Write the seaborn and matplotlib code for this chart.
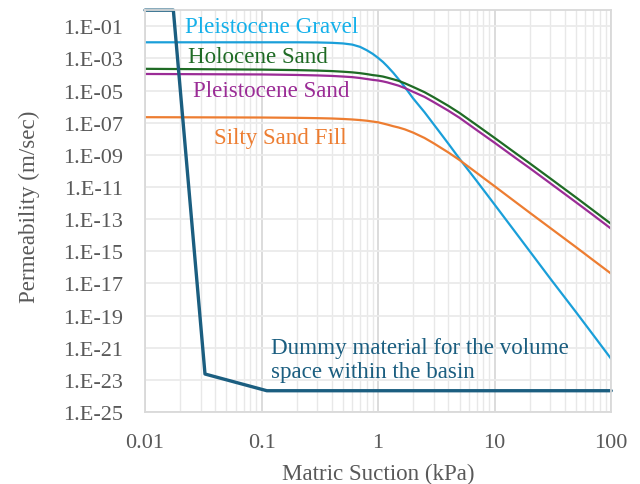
import pandas as pd
import matplotlib
matplotlib.use("Agg")
import matplotlib.pyplot as plt
import matplotlib.ticker as mticker
import seaborn as sns

# matric suction (kPa) shared by the four soil curves
suction = [0.01, 0.1, 0.2, 0.3, 0.4, 0.5, 0.6, 0.7, 0.8, 0.9, 1.0, 1.1, 1.2, 1.35, 1.5, 1.7,
           2.0, 2.5, 3.0, 4.0, 5.0, 7.0, 10, 15, 20, 30, 50, 70, 100]

# permeability (m/sec)
k_gravel = [1.0e-2, 1.0e-2, 1.0e-2, 9.8e-3, 9.3e-3, 8.5e-3, 7.2e-3, 5.2e-3, 3.2e-3, 1.9e-3,
            1.07e-3, 6.0e-4, 3.2e-4, 1.26e-4, 5.0e-5, 1.6e-5, 3.2e-6, 4.5e-7, 7.9e-8, 5.0e-9,
            5.6e-10, 2.4e-11, 7.9e-13, 1.6e-14, 1.0e-15, 2.0e-17, 1.6e-19, 6.3e-21, 2.0e-22]
k_holocene = [2.24e-4, 2.0e-4, 1.86e-4, 1.74e-4, 1.62e-4, 1.48e-4, 1.35e-4, 1.2e-4, 1.05e-4, 9.1e-5,
              8.3e-5, 7.4e-5, 6.3e-5, 5.0e-5, 4.0e-5, 2.8e-5, 1.66e-5, 7.9e-6, 3.8e-6, 1.12e-6,
              4.0e-7, 7.1e-8, 1.12e-8, 1.32e-9, 2.95e-10, 3.4e-11, 2.2e-12, 3.5e-13, 5.0e-14]
k_pleist_sand = [1.07e-4, 1.0e-4, 9.3e-5, 8.7e-5, 8.1e-5, 7.4e-5, 6.8e-5, 6.0e-5, 5.2e-5, 4.6e-5,
                 4.2e-5, 3.7e-5, 3.2e-5, 2.5e-5, 2.0e-5, 1.41e-5, 8.3e-6, 4.0e-6, 1.9e-6, 5.6e-7,
                 2.0e-7, 3.5e-8, 5.6e-9, 6.6e-10, 1.48e-10, 1.7e-11, 1.1e-12, 1.78e-13, 2.5e-14]
k_silty = [2.19e-7, 2.09e-7, 2.0e-7, 1.91e-7, 1.82e-7, 1.7e-7, 1.58e-7, 1.45e-7, 1.32e-7, 1.17e-7,
           1.05e-7, 8.9e-8, 7.6e-8, 6.0e-8, 5.0e-8, 3.8e-8, 2.4e-8, 1.12e-8, 5.2e-9, 1.41e-9,
           4.7e-10, 7.6e-11, 1.1e-11, 1.2e-12, 2.5e-13, 2.8e-14, 1.78e-15, 2.8e-16, 4.0e-17]

# dummy material
suction_dummy = [0.01, 0.0175, 0.0327, 0.111, 100]
k_dummy = [1.0, 1.0, 2.3e-23, 2.1e-24, 2.1e-24]

materials = ["Pleistocene Gravel", "Holocene Sand", "Pleistocene Sand", "Silty Sand Fill"]
colors = {"Pleistocene Gravel": "#1a9fd9", "Holocene Sand": "#1f6b25",
          "Pleistocene Sand": "#9b2c96", "Silty Sand Fill": "#ed7d31"}
text_colors = {"Pleistocene Gravel": "#14b0ea", "Holocene Sand": "#1f6b25",
               "Pleistocene Sand": "#9b2c96", "Silty Sand Fill": "#ed7d31"}
dummy_color = "#1b5e80"

df = pd.concat([
    pd.DataFrame({"suction": suction, "k": k, "material": m})
    for m, k in zip(materials, [k_gravel, k_holocene, k_pleist_sand, k_silty])
])
df_dummy = pd.DataFrame({"suction": suction_dummy, "k": k_dummy})

sns.set_theme(style="white")
plt.rcParams["font.family"] = ["Liberation Serif", "DejaVu Serif"]

fig, ax = plt.subplots(figsize=(6.4, 4.85), dpi=100)
fig.subplots_adjust(left=0.2266, right=0.955, top=0.977, bottom=0.1485)

ax.set_xscale("log")
ax.set_yscale("log")

sns.lineplot(data=df, x="suction", y="k", hue="material", palette=colors,
             estimator=None, sort=False, legend=False, linewidth=1.6, ax=ax)
sns.lineplot(data=df_dummy, x="suction", y="k", color=dummy_color,
             estimator=None, sort=False, linewidth=2.4, ax=ax)
ax.lines[-1].set_clip_on(False)

ax.set_xlim(0.01, 100)
ax.set_ylim(1e-25, 1)

# ticks
ax.xaxis.set_major_locator(mticker.FixedLocator([0.01, 0.1, 1, 10, 100]))
ax.xaxis.set_major_formatter(mticker.FixedFormatter(["0.01", "0.1", "1", "10", "100"]))
ax.xaxis.set_minor_locator(mticker.LogLocator(base=10, subs=range(2, 10), numticks=20))
ax.xaxis.set_minor_formatter(mticker.NullFormatter())
yt = [10.0 ** -e for e in range(1, 26, 2)]
ax.yaxis.set_major_locator(mticker.FixedLocator(yt))
ax.yaxis.set_major_formatter(mticker.FixedFormatter([f"1.E-{e:02d}" for e in range(1, 26, 2)]))
ax.yaxis.set_minor_locator(mticker.NullLocator())
ax.tick_params(axis="both", which="both", length=0, labelsize=16, labelcolor="#595959")
ax.tick_params(axis="x", pad=15)
ax.tick_params(axis="y", pad=16)

ax.grid(True, which="major", axis="x", color="#d9d9d9", linewidth=1.3)
ax.grid(True, which="minor", axis="x", color="#e8e8e8", linewidth=1.0)
ax.grid(True, which="major", axis="y", color="#ebebeb", linewidth=1.3)
ax.set_axisbelow(True)
for s in ax.spines.values():
    s.set_color("#d9d9d9")
    s.set_linewidth(1.3)

ax.set_xlabel("Matric Suction (kPa)", fontsize=16.6, color="#595959", labelpad=8)
ax.set_ylabel("Permeability (m/sec)", fontsize=16.6, color="#595959")
ax.yaxis.set_label_coords(-0.225, 0.512)

# curve labels
label_pos = {"Pleistocene Gravel": (0.022, 1e-1), "Holocene Sand": (0.0234, 1.4e-3),
             "Pleistocene Sand": (0.0258, 1.05e-5), "Silty Sand Fill": (0.039, 1.26e-8)}
for m, (x, y) in label_pos.items():
    ax.text(x, y, m, color=text_colors[m], fontsize=16.6, ha="left", va="center")
ax.text(0.121, 1.9e-22, "Dummy material for the volume\nspace within the basin",
        color=dummy_color, fontsize=16.6, ha="left", va="center", linespacing=1.22)

plt.savefig("out.png", dpi=100)
